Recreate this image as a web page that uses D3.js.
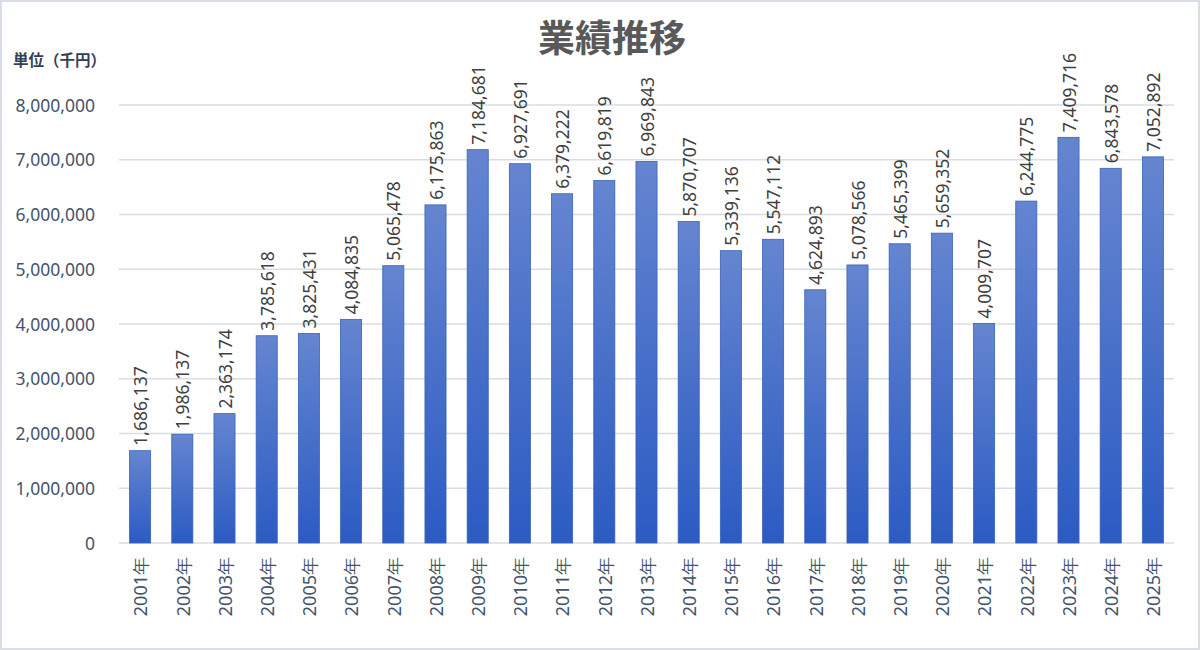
<!DOCTYPE html>
<html><head><meta charset="utf-8">
<script src="https://cdn.jsdelivr.net/npm/d3@7"></script>
<style>
html,body{margin:0;padding:0;background:#fff;}
svg{display:block;}
</style></head>
<body>
<svg id="chart" width="1200" height="650"></svg>
<script>
const title = "業績推移";
const unitLabel = "単位（千円）";
const years = ["2001年","2002年","2003年","2004年","2005年","2006年","2007年","2008年","2009年","2010年","2011年","2012年","2013年","2014年","2015年","2016年","2017年","2018年","2019年","2020年","2021年","2022年","2023年","2024年","2025年"];
const sales = [1686137,1986137,2363174,3785618,3825431,4084835,5065478,6175863,7184681,6927691,6379222,6619819,6969843,5870707,5339136,5547112,4624893,5078566,5465399,5659352,4009707,6244775,7409716,6843578,7052892];
const yTicks = [0,1000000,2000000,3000000,4000000,5000000,6000000,7000000,8000000];

const svg = d3.select("#chart");
const W = 1200, H = 650;
const font = "'Noto Sans CJK JP','Noto Sans',sans-serif";
const numFont = "'Noto Sans','Open Sans',sans-serif";

svg.append("rect").attr("x",1).attr("y",1).attr("width",W-2).attr("height",H-2)
  .attr("fill","#fff").attr("stroke","#d9dee6").attr("stroke-width",2);

const defs = svg.append("defs");
const grad = defs.append("linearGradient").attr("id","barGrad").attr("x1",0).attr("y1",0).attr("x2",0).attr("y2",1);
grad.append("stop").attr("offset","0%").attr("stop-color","#6585d0");
grad.append("stop").attr("offset","100%").attr("stop-color","#2b5bc3");

const pLeft = 119, pRight = 1174, pTop = 105, pBottom = 543;
const x = d3.scaleBand().domain(years).range([pLeft,pRight]).paddingInner(0.5).paddingOuter(0.25);
const y = d3.scaleLinear().domain([0,8000000]).range([pBottom,pTop]);

// gridlines
svg.append("g").selectAll("line").data(yTicks).join("line")
  .attr("x1",pLeft).attr("x2",pRight)
  .attr("y1",d=>y(d)).attr("y2",d=>y(d))
  .attr("stroke","#d9dde3").attr("stroke-width",1.3);

// y axis labels
const yAxis = d3.axisLeft(y).tickValues(yTicks).tickSize(0).tickPadding(0).tickFormat(d3.format(","));
const yg = svg.append("g").attr("transform",`translate(95,0)`).call(yAxis);
yg.select(".domain").remove();
yg.selectAll("text").attr("font-family",numFont).attr("font-size",17.5).attr("fill","#44546a").attr("dy","0.35em");

// bars
svg.append("g").selectAll("rect").data(sales).join("rect")
  .attr("x",(d,i)=>x(years[i]))
  .attr("y",d=>y(d))
  .attr("width",x.bandwidth())
  .attr("height",d=>pBottom-y(d))
  .attr("fill","url(#barGrad)")
  .attr("stroke","#3a62b8").attr("stroke-width",0.8);

// value labels
svg.append("g").selectAll("text").data(sales).join("text")
  .attr("transform",(d,i)=>`translate(${x(years[i])+x.bandwidth()/2+1},${y(d)-5}) rotate(-90)`)
  .attr("dy","0.35em")
  .attr("font-family",numFont).attr("font-size",17.5).attr("fill","#404040")
  .text(d=>d3.format(",")(d));

// x axis labels
const xAxis = d3.axisBottom(x).tickSize(0).tickPadding(0);
const xg = svg.append("g").attr("transform",`translate(0,${pBottom})`).call(xAxis);
xg.select(".domain").remove();
xg.selectAll("text")
  .attr("font-family",numFont).attr("font-size",18).attr("fill","#44546a")
  .attr("text-anchor","end").attr("dy","0.35em")
  .attr("transform","translate(1,14) rotate(-90)")
  .attr("x",0).attr("y",0);

// title
svg.append("text").attr("x",612).attr("y",52).attr("text-anchor","middle")
  .attr("font-family",font).attr("font-weight","bold").attr("font-size",37).attr("fill","#595959")
  .text(title);

// unit label
svg.append("text").attr("x",13).attr("y",66)
  .attr("font-family",font).attr("font-weight","bold").attr("font-size",15.5).attr("fill","#333f55")
  .text(unitLabel);
</script>
</body></html>
